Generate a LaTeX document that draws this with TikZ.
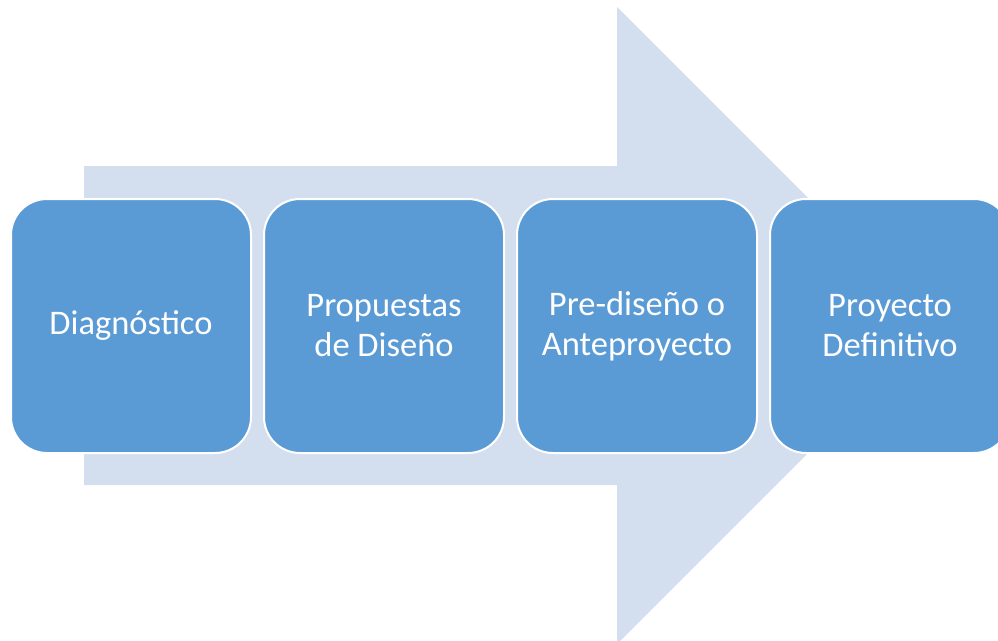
\documentclass[tikz,border=0pt]{standalone}
\usepackage{fontspec}
\setmainfont{Carlito}
\definecolor{arrowfill}{HTML}{D3DEEF}
\definecolor{boxfill}{HTML}{5B9BD5}
\begin{document}
\begin{tikzpicture}[x=1pt,y=-1pt,
  stagebox/.style={rectangle, rounded corners=36pt, fill=boxfill, draw=white, line width=2pt,
    minimum width=240pt, minimum height=254pt, align=center, text=white,
    font=\fontsize{34.5}{40}\selectfont, anchor=north west}]
\useasboundingbox (0,0) rectangle (998,640);
\clip (0,0) rectangle (998,640);
\fill[arrowfill] (84,166) -- (617,166) -- (617,7) -- (935.5,325.5) -- (617,644) -- (617,485) -- (84,485) -- cycle;
\node[stagebox] (s1) at (10,198) {Diagnóstico};
\node[stagebox] (s2) at (263,198) {Propuestas\\de Diseño};
\node[stagebox] (s3) at (516,198) {Pre-diseño o\\Anteproyecto};
\node[stagebox] (s4) at (769,198) {Proyecto\\Definitivo};
\end{tikzpicture}
\end{document}
